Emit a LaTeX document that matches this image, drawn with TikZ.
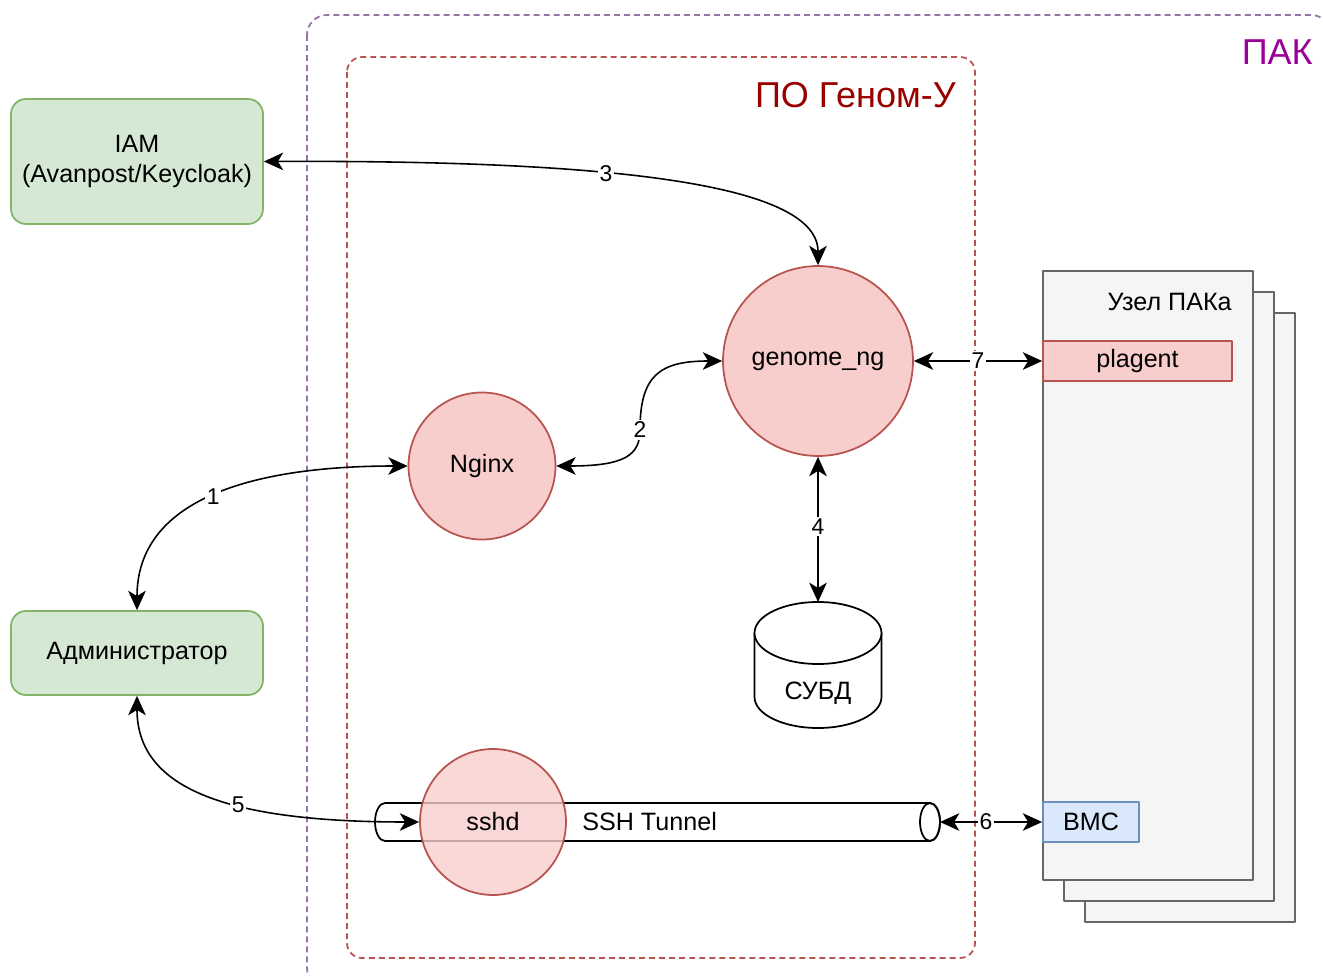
\documentclass[tikz,border=0pt]{standalone}
\usepackage{fontspec}
\setmainfont{Liberation Sans}
\usepackage{tikz}
\usepackage{xcolor}
\usetikzlibrary{arrows.meta}

\definecolor{grfill}{HTML}{D5E8D4}
\definecolor{grline}{HTML}{82B366}
\definecolor{rdfill}{HTML}{F8CECC}
\definecolor{rdline}{HTML}{B85450}
\definecolor{blfill}{HTML}{DAE8FC}
\definecolor{blline}{HTML}{6C8EBF}
\definecolor{gyfill}{HTML}{F5F5F5}
\definecolor{gyline}{HTML}{666666}
\definecolor{pakline}{HTML}{9673A6}
\definecolor{pakcol}{HTML}{990099}
\definecolor{gencol}{HTML}{990000}

\begin{document}
\begin{tikzpicture}[x=0.02cm,y=-0.02cm,line cap=round,line join=round]
    % styles
    \tikzstyle{every node}=[font=\fontsize{14.3}{17}\selectfont]
    \tikzstyle{actor}=[rectangle,rounded corners=0.3cm,fill=grfill,draw=grline,line width=1pt,minimum width=5.04cm,align=center]
    \tikzstyle{svc}=[circle,fill=rdfill,draw=rdline,line width=1pt]
    \tikzstyle{part}=[rectangle,line width=1pt,minimum height=0.8cm]
    \tikzstyle{host}=[fill=gyfill,draw=gyline,line width=1pt]
    \tikzstyle{zone}=[dash pattern=on 3.4pt off 2.3pt,line cap=butt,line width=1pt,rounded corners=0.4cm]
    \tikzstyle{link}=[{Stealth[length=11pt,width=10pt,inset=3pt]}-{Stealth[length=11pt,width=10pt,inset=3pt]},line width=0.9pt]
    \tikzstyle{num}=[fill=white,inner sep=1pt,font=\fontsize{13}{15}\selectfont]
    \tikzstyle{title}=[anchor=east,inner sep=0pt,font=\fontsize{20.5}{24}\selectfont]

    \useasboundingbox (0,0) rectangle (1323,976);

    % ----------------------------------------------------
    % containers
    % ----------------------------------------------------
    \draw[zone,draw=pakline] (307,15) rectangle (1331,988);
    \node[title,text=pakcol] (paklbl) at (1313,52) {ПАК};
    \draw[zone,draw=rdline,rounded corners=0.3cm] (347,57) rectangle (975,958);
    \node[title,text=gencol] (genlbl) at (956,95) {ПО Геном-У};

    % ----------------------------------------------------
    % node of the complex (stacked)
    % ----------------------------------------------------
    \draw[host] (1085,313) rectangle (1295,922);
    \draw[host] (1064,292) rectangle (1274,901);
    \draw[host] (1043,271) rectangle (1253,880);
    \node[anchor=east,inner sep=0pt] (hostlbl) at (1232,302) {Узел ПАКа};
    \node[part,fill=rdfill,draw=rdline,minimum width=3.78cm] (plagent) at (1137.5,361) {plagent};
    \node[part,fill=blfill,draw=blline,minimum width=1.92cm] (bmc) at (1091,822) {BMC};

    % ----------------------------------------------------
    % SSH tunnel
    % ----------------------------------------------------
    \draw[line width=1pt,fill=white] (385,803) -- (930,803)
       arc[start angle=270,end angle=450,x radius=10,y radius=19]
       -- (385,841) arc[start angle=90,end angle=270,x radius=10,y radius=19] -- cycle;
    \draw[line width=1pt] (930,822) ellipse [x radius=10,y radius=19];
    \coordinate (tunnelR) at (940,822);
    \node[anchor=west,inner sep=0pt] (tunnel) at (582,822) {SSH Tunnel};

    % ----------------------------------------------------
    % services
    % ----------------------------------------------------
    \node[svc,minimum size=3.8cm] (genome) at (818,361) {genome\_ng};
    \node[svc,minimum size=2.94cm] (nginx) at (482,466) {Nginx};
    \node[svc,minimum size=2.92cm,fill opacity=0.8,text opacity=1] (sshd) at (493,822) {sshd};

    % DBMS cylinder
    \draw[line width=1pt,fill=white] (754.5,633) -- (754.5,697)
       arc[start angle=180,end angle=0,x radius=63.5,y radius=31] -- (881.5,633);
    \draw[line width=1pt,fill=white] (818,633) ellipse [x radius=63.5,y radius=31];
    \coordinate (dbtop) at (818,602);
    \node (db) at (818,693) {СУБД};

    % ----------------------------------------------------
    % actors
    % ----------------------------------------------------
    \node[actor,minimum height=2.5cm] (iam) at (137,161.5) {IAM\\(Avanpost/Keycloak)};
    \node[actor,minimum height=1.68cm] (admin) at (137,653) {Администратор};

    % ----------------------------------------------------
    % links
    % ----------------------------------------------------
    \draw[link] (nginx.west) .. controls (250,466) and (137,500) .. (admin.north) node[num,pos=0.5]{1};
    \draw[link] (nginx.east) .. controls (625,466) and (640,455) .. (640,430) node[num]{2}
       .. controls (640,375) and (660,361) .. (genome.west);
    \draw[link] (iam.east) .. controls (620,160) and (818,185) .. (genome.north) node[num,pos=0.39]{3};
    \draw[link] (genome.south) -- (dbtop) node[num,pos=0.48]{4};
    \draw[link] (admin.south) .. controls (137,790) and (230,822) .. (sshd.west) node[num,pos=0.6]{5};
    \draw[link] (tunnelR) -- (bmc.west) node[num,pos=0.45]{6};
    \draw[link] (genome.east) -- (plagent.west) node[num,midway]{7};
\end{tikzpicture}
\end{document}
